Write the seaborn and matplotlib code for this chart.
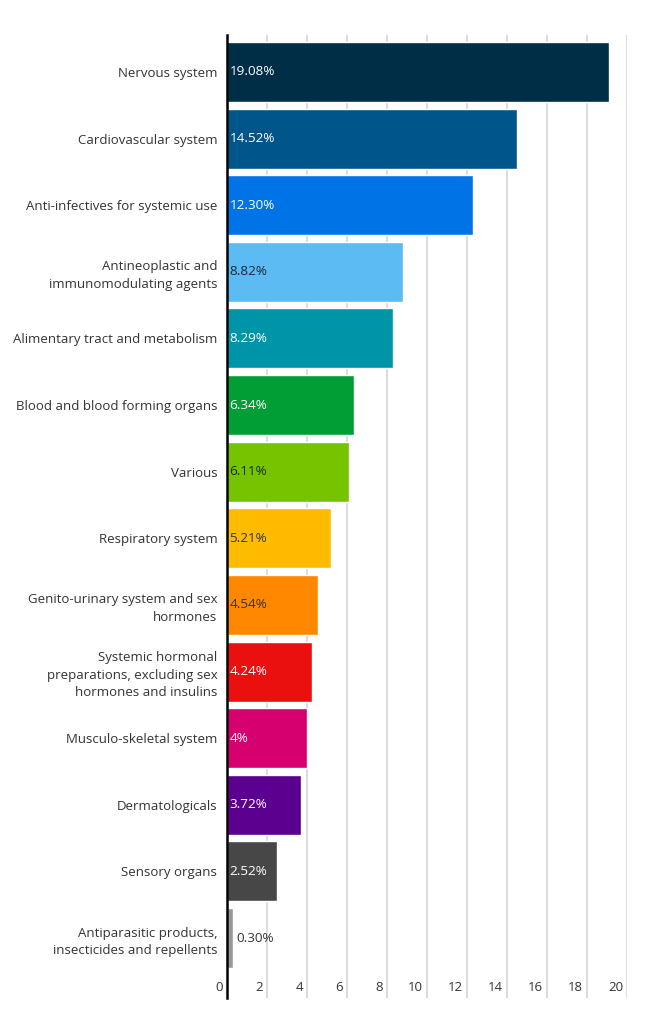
import matplotlib
matplotlib.use("Agg")
import matplotlib.pyplot as plt
import matplotlib.transforms as mtransforms
import seaborn as sns
import pandas as pd

categories = [
    "Nervous system",
    "Cardiovascular system",
    "Anti-infectives for systemic use",
    "Antineoplastic and\nimmunomodulating agents",
    "Alimentary tract and metabolism",
    "Blood and blood forming organs",
    "Various",
    "Respiratory system",
    "Genito-urinary system and sex\nhormones",
    "Systemic hormonal\npreparations, excluding sex\nhormones and insulins",
    "Musculo-skeletal system",
    "Dermatologicals",
    "Sensory organs",
    "Antiparasitic products,\ninsecticides and repellents",
]
values = [19.08, 14.52, 12.30, 8.82, 8.29, 6.34, 6.11, 5.21, 4.54, 4.24, 4.0, 3.72, 2.52, 0.30]
value_labels = ["19.08%", "14.52%", "12.30%", "8.82%", "8.29%", "6.34%", "6.11%",
                "5.21%", "4.54%", "4.24%", "4%", "3.72%", "2.52%", "0.30%"]
colors = ["#002e47", "#00568a", "#0073e6", "#5cbbf2", "#0094a8", "#009e35", "#76c400",
          "#ffbb00", "#ff8800", "#ea1010", "#d6006e", "#5c008f", "#474747", "#999999"]
label_colors = ["white", "white", "white", "#1a2a3a", "white", "white", "#1a2a1a",
                "#333333", "#333333", "white", "white", "white", "white", "#333333"]
xticks = [0, 2, 4, 6, 8, 10, 12, 14, 16, 18, 20]

sns.set_theme(style="white")
plt.rcParams["font.family"] = ["Open Sans", "DejaVu Sans"]

df = pd.DataFrame({"category": categories, "value": values})

fig = plt.figure(figsize=(6.48, 10.24), dpi=100)
ax = fig.add_axes([227 / 648, 1 - 998 / 1024, 400 / 648, (998 - 35) / 1024])

sns.barplot(data=df, y="category", x="value", hue="category", palette=colors,
            legend=False, width=0.9, ax=ax, saturation=1, orient="h")

ax.set_xlim(0, 20)
ax.set_ylim(13.9, -0.555)
ax.set_xlabel("")
ax.set_ylabel("")

ax.set_xticks(xticks)
ax.xaxis.grid(True, color="#dddddd", linewidth=1.5)
ax.set_axisbelow(True)
ax.tick_params(axis="x", length=0, pad=-12, labelsize=9.5, labelcolor="#333333")
ax.tick_params(axis="y", length=0, pad=7, labelsize=9.5, labelcolor="#333333")
offset = mtransforms.ScaledTranslation(-4 / 100, 0, fig.dpi_scale_trans)
for lab in ax.get_xticklabels():
    lab.set_horizontalalignment("right")
    lab.set_transform(lab.get_transform() + offset)
for lab in ax.get_yticklabels():
    lab.set_linespacing(1.45)

for s in ["top", "right", "bottom"]:
    ax.spines[s].set_visible(False)
ax.spines["left"].set_color("black")
ax.spines["left"].set_linewidth(1.8)

for i, (v, t, c) in enumerate(zip(values, value_labels, label_colors)):
    xpos = 0.12 if v > 1 else v + 0.15
    ax.text(xpos, i, t, va="center", ha="left", fontsize=9.7, color=c)

fig.savefig("out.png", dpi=100, facecolor="white")
